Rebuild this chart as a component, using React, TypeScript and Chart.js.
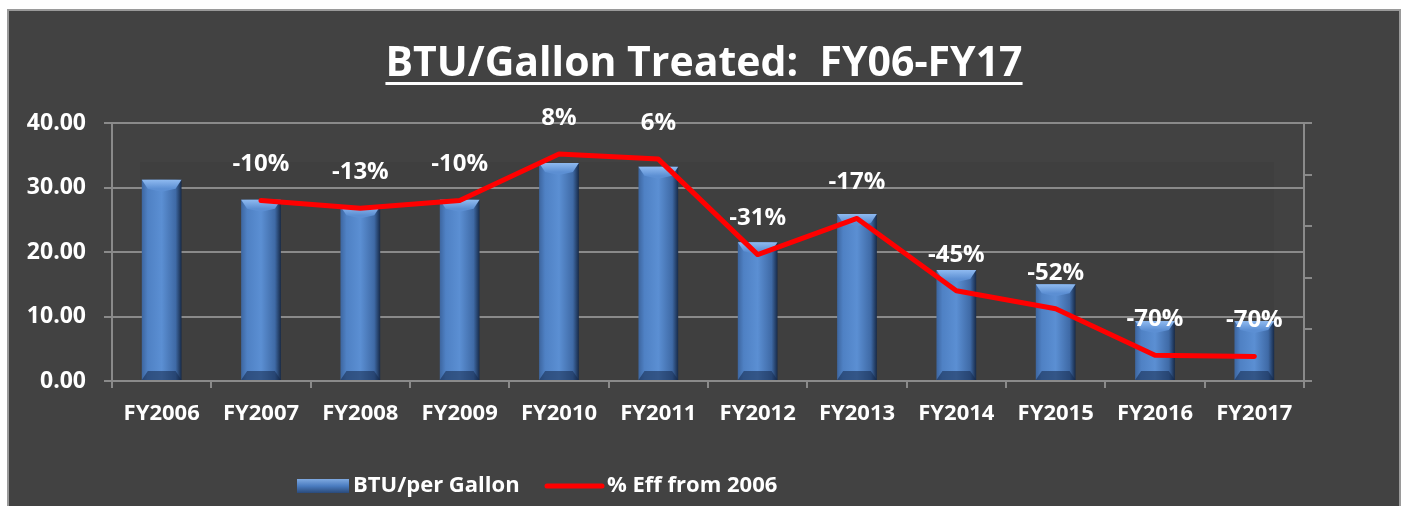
import React, { useEffect, useRef } from 'react';
import { Chart, registerables } from 'chart.js';

Chart.register(...registerables);

const categories = ['FY2006', 'FY2007', 'FY2008', 'FY2009', 'FY2010', 'FY2011', 'FY2012', 'FY2013', 'FY2014', 'FY2015', 'FY2016', 'FY2017'];
const btuPerGallon = [31.2, 28.1, 27.1, 28.1, 33.8, 33.2, 21.5, 25.9, 17.2, 15.0, 9.3, 9.3];
const effFrom2006 = [null, -0.10, -0.13, -0.10, 0.08, 0.06, -0.31, -0.17, -0.45, -0.52, -0.70, -0.705];
const effLabels = ['', '-10%', '-13%', '-10%', '8%', '6%', '-31%', '-17%', '-45%', '-52%', '-70%', '-70%'];
const titleText = 'BTU/Gallon Treated:  FY06-FY17';
const seriesNames = ['BTU/per Gallon', '% Eff from 2006'];

const FONT = '"Open Sans", "DejaVu Sans", sans-serif';
const GRID = '#8a8a8a';
const PANEL = '#424242';

const panelPlugin = {
  id: 'panel',
  beforeDraw(chart: any) {
    const { ctx, width, height } = chart;
    ctx.save();
    ctx.fillStyle = '#ffffff';
    ctx.fillRect(0, 0, width, height);
    ctx.fillStyle = PANEL;
    ctx.fillRect(8, 10, 1392, height - 10);
    ctx.strokeStyle = '#9a9a9a';
    ctx.lineWidth = 2;
    ctx.strokeRect(8, 10, 1392, height);
    const ca = chart.chartArea;
    ctx.fillStyle = '#3f3f3f';
    ctx.fillRect(ca.left + 28, ca.top + 39, ca.right - ca.left - 58, ca.bottom - ca.top - 39);
    ctx.restore();
  },
};

const bevelPlugin = {
  id: 'bevel',
  afterDatasetDraw(chart: any, args: any) {
    if (args.index !== 0) return;
    const { ctx } = chart;
    const meta = chart.getDatasetMeta(0);
    ctx.save();
    meta.data.forEach((bar: any) => {
      const w = bar.width;
      const l = bar.x - w / 2;
      const r = bar.x + w / 2;
      const t = bar.y;
      const b = bar.base;
      const bv = Math.min(9, (b - t) / 3);
      const g = ctx.createLinearGradient(0, t, 0, t + bv);
      g.addColorStop(0, '#8fbaf0');
      g.addColorStop(1, '#5c8fd3');
      ctx.fillStyle = g;
      ctx.beginPath();
      ctx.moveTo(l, t);
      ctx.lineTo(r, t);
      ctx.lineTo(r - 6, t + bv);
      ctx.lineTo(bar.x, t + bv + 3);
      ctx.lineTo(l + 6, t + bv);
      ctx.closePath();
      ctx.fill();
      ctx.fillStyle = 'rgba(20,40,75,0.55)';
      ctx.beginPath();
      ctx.moveTo(l, b);
      ctx.lineTo(r, b);
      ctx.lineTo(r - 6, b - bv);
      ctx.lineTo(l + 6, b - bv);
      ctx.closePath();
      ctx.fill();
    });
    ctx.restore();
  },
};

const labelsPlugin = {
  id: 'pctLabels',
  afterDatasetsDraw(chart: any) {
    const { ctx } = chart;
    const meta = chart.getDatasetMeta(1);
    ctx.save();
    ctx.fillStyle = '#ffffff';
    ctx.font = `bold 24px ${FONT}`;
    ctx.textAlign = 'center';
    ctx.textBaseline = 'middle';
    meta.data.forEach((pt: any, i: number) => {
      if (!effLabels[i] || effFrom2006[i] === null) return;
      ctx.fillText(effLabels[i], pt.x, pt.y - 36);
    });
    ctx.restore();
  },
};

const titleLegendPlugin = {
  id: 'titleLegend',
  afterDraw(chart: any) {
    const { ctx } = chart;
    ctx.save();
    ctx.fillStyle = '#ffffff';
    ctx.font = `bold 41px ${FONT}`;
    ctx.textAlign = 'center';
    ctx.textBaseline = 'alphabetic';
    const cx = 704;
    ctx.fillText(titleText, cx, 76);
    const tw = ctx.measureText(titleText).width;
    ctx.fillRect(cx - tw / 2, 82, tw, 3);
    ctx.font = `bold 22px ${FONT}`;
    ctx.textAlign = 'left';
    ctx.textBaseline = 'middle';
    const y = 486;
    const sx = 297;
    const g = ctx.createLinearGradient(0, y - 7, 0, y + 7);
    g.addColorStop(0, '#7fa9e0');
    g.addColorStop(0.5, '#4a7cc0');
    g.addColorStop(1, '#2a4a7a');
    ctx.fillStyle = g;
    ctx.fillRect(sx, y - 7, 52, 14);
    ctx.fillStyle = '#ffffff';
    ctx.fillText(seriesNames[0], sx + 56, y);
    const lx = 547;
    ctx.strokeStyle = '#ff0000';
    ctx.lineWidth = 5;
    ctx.lineCap = 'round';
    ctx.beginPath();
    ctx.moveTo(lx, y);
    ctx.lineTo(lx + 55, y);
    ctx.stroke();
    ctx.fillText(seriesNames[1], lx + 60, y);
    ctx.restore();
  },
};

function barFill(c: any) {
  const chart = c.chart;
  const xs = chart.scales && chart.scales.x;
  const ca = chart.chartArea;
  if (!xs || !ca) return '#4f81bd';
  const x = xs.getPixelForValue(c.dataIndex);
  const w = (ca.right - ca.left) / categories.length * 0.4;
  const g = chart.ctx.createLinearGradient(x - w / 2, 0, x + w / 2, 0);
  g.addColorStop(0, '#3d66a0');
  g.addColorStop(0.15, '#4f81c4');
  g.addColorStop(0.5, '#5b8fd3');
  g.addColorStop(0.85, '#3f6aa6');
  g.addColorStop(1, '#172a48');
  return g;
}

export default function App() {
  const ref = useRef<HTMLCanvasElement>(null);
  useEffect(() => {
    if (!ref.current) return;
    const chart = new Chart(ref.current, {
      data: {
        labels: categories,
        datasets: [
          {
            type: 'bar',
            label: seriesNames[0],
            data: btuPerGallon,
            yAxisID: 'y',
            backgroundColor: barFill as any,
            borderWidth: 0,
            barPercentage: 0.4,
            categoryPercentage: 1,
            order: 2,
          },
          {
            type: 'line',
            label: seriesNames[1],
            data: effFrom2006 as any,
            yAxisID: 'y1',
            borderColor: '#ff0000',
            borderWidth: 5,
            borderCapStyle: 'round',
            borderJoinStyle: 'round',
            pointRadius: 0,
            tension: 0,
            fill: false,
            order: 1,
          },
        ],
      } as any,
      options: {
        responsive: false,
        animation: false,
        devicePixelRatio: 1,
        layout: { padding: { top: 123, left: 0, right: 0, bottom: 0 } },
        plugins: { legend: { display: false }, tooltip: { enabled: false }, title: { display: false } },
        scales: {
          x: {
            offset: true,
            grid: { offset: true, drawOnChartArea: false, color: GRID, lineWidth: 2, tickLength: 7 },
            border: { color: GRID, width: 2 },
            ticks: { color: '#ffffff', font: { family: FONT, size: 22, weight: 'bold' }, padding: 13, maxRotation: 0, autoSkip: false },
            afterFit: (s: any) => { s.height = 125; },
          },
          y: {
            position: 'left',
            min: 0,
            max: 40,
            ticks: {
              stepSize: 10,
              color: '#ffffff',
              font: { family: FONT, size: 23, weight: 'bold' },
              padding: 18,
              callback: (v: any) => Number(v).toFixed(2),
            },
            grid: { color: GRID, lineWidth: 2, tickLength: 8 },
            border: { color: GRID, width: 2 },
            afterFit: (s: any) => { s.width = 112; },
          },
          y1: {
            position: 'right',
            min: -0.8,
            max: 0.2,
            ticks: { stepSize: 0.2, display: false },
            grid: { drawOnChartArea: false, color: GRID, lineWidth: 2, tickLength: 8 },
            border: { color: GRID, width: 2 },
            afterFit: (s: any) => { s.width = 102; },
          },
        },
      } as any,
      plugins: [panelPlugin, bevelPlugin, labelsPlugin, titleLegendPlugin],
    });
    return () => chart.destroy();
  }, []);
  return (
    <div style={{ position: 'absolute', left: 0, top: 0, width: 1406, height: 506 }}>
      <canvas ref={ref} width={1406} height={506} />
    </div>
  );
}
